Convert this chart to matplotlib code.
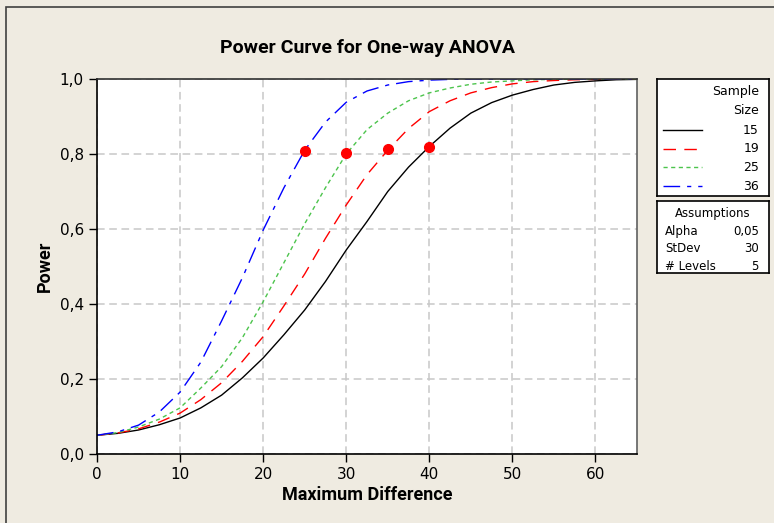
import numpy as np
import matplotlib.pyplot as plt
from matplotlib.patches import Rectangle

# values
diff = [0, 2.5, 5, 7.5, 10, 12.5, 15, 17.5, 20, 22.5, 25, 27.5, 30, 32.5,
        35, 37.5, 40, 42.5, 45, 47.5, 50, 52.5, 55, 57.5, 60, 62.5, 65]
power_15 = [0.050, 0.055, 0.064, 0.078, 0.096, 0.123, 0.157, 0.203, 0.256,
            0.318, 0.384, 0.460, 0.544, 0.620, 0.700, 0.765, 0.820, 0.869,
            0.909, 0.937, 0.957, 0.972, 0.984, 0.991, 0.995, 0.998, 0.999]
power_19 = [0.050, 0.056, 0.067, 0.085, 0.109, 0.145, 0.190, 0.247, 0.313,
            0.395, 0.480, 0.575, 0.664, 0.745, 0.810, 0.868, 0.913, 0.942,
            0.963, 0.977, 0.987, 0.993, 0.996, 0.998, 0.999, 1.000, 1.000]
power_25 = [0.050, 0.057, 0.072, 0.093, 0.123, 0.176, 0.233, 0.310, 0.406,
            0.510, 0.614, 0.710, 0.800, 0.865, 0.909, 0.942, 0.963, 0.976,
            0.986, 0.992, 0.995, 0.998, 0.999, 1.000, 1.000, 1.000, 1.000]
power_36 = [0.050, 0.059, 0.077, 0.112, 0.165, 0.245, 0.355, 0.470, 0.597,
            0.710, 0.810, 0.885, 0.938, 0.968, 0.984, 0.993, 0.997, 0.999,
            1.000, 1.000, 1.000, 1.000, 1.000, 1.000, 1.000, 1.000, 1.000]

sizes = ['15', '19', '25', '36']
colors = ['black', 'red', '#4CC44C', 'blue']
styles = ['-', (0, (9, 6)), (0, (3, 2.5)), (0, (12, 5, 3, 5))]

# target points (difference for 0.8 power)
target_x = [25, 30, 35, 40]
target_y = [0.808, 0.802, 0.813, 0.820]

assump_names = ['Alpha', 'StDev', '# Levels']
assump_vals = ['0,05', '30', '5']

narrow = ['Roboto', 'DejaVu Sans']

bg = '#EFEBE1'
W, H = 774, 523
fig = plt.figure(figsize=(W / 100, H / 100), dpi=100, facecolor=bg)

# outer frame
fig.add_artist(Rectangle((6 / W, -0.1), 1.2, (H - 7) / H + 0.1,
                         transform=fig.transFigure, fill=False,
                         edgecolor='#404040', lw=1.2))

ax = fig.add_axes([97 / W, (H - 454) / H, 540 / W, 375 / H])
ax.set_facecolor('white')

curves = [power_15, power_19, power_25, power_36]
for y, c, ls in zip(curves, colors, styles):
    ax.plot(diff, y, color=c, linestyle=ls, lw=1.0)
ax.plot(target_x, target_y, 'o', color='red', ms=7, zorder=5)

ax.set_xlim(0, 65)
ax.set_ylim(0, 1.0)
ax.set_xticks(np.arange(0, 61, 10))
ax.set_yticks(np.arange(0, 1.01, 0.2))
ax.set_yticklabels([f'{v:.1f}'.replace('.', ',') for v in np.arange(0, 1.01, 0.2)])
ax.grid(True, color='#C8C8C8', linestyle=(0, (5, 3)), lw=1.1)
ax.tick_params(direction='out', length=6, width=1, labelsize=11)
for s in ax.spines.values():
    s.set_linewidth(1.2)
ax.spines['top'].set_color('#303030')
ax.spines['right'].set_color('#606060')

ax.set_title('Power Curve for One-way ANOVA', fontsize=14, fontweight='bold',
             family=narrow, pad=19)
ax.set_xlabel('Maximum Difference', fontsize=13, fontweight='bold',
              family=narrow, labelpad=3)
ax.set_ylabel('Power', fontsize=13, fontweight='bold', family=narrow,
              labelpad=4)

# legend box
lg = fig.add_axes([657 / W, (H - 196) / H, 112 / W, 117 / H])
lg.set_xlim(0, 112)
lg.set_ylim(117, 0)
lg.set_xticks([])
lg.set_yticks([])
for s in lg.spines.values():
    s.set_linewidth(1.2)
lg.text(102, 13, 'Sample', ha='right', va='center', fontsize=9)
lg.text(102, 32, 'Size', ha='right', va='center', fontsize=9)
for i, (lab, c, ls) in enumerate(zip(sizes, colors, styles)):
    yy = 51 + i * 18.7
    lg.plot([6, 45], [yy, yy], color=c, linestyle=ls, lw=1.0)
    lg.text(102, yy, lab, ha='right', va='center', fontsize=9)

# assumptions box
ab = fig.add_axes([657 / W, (H - 273) / H, 112 / W, 72 / H])
ab.set_xlim(0, 112)
ab.set_ylim(72, 0)
ab.set_xticks([])
ab.set_yticks([])
for s in ab.spines.values():
    s.set_linewidth(1.2)
ab.text(56, 12, 'Assumptions', ha='center', va='center', fontsize=8.5)
for i, (n, v) in enumerate(zip(assump_names, assump_vals)):
    yy = 30 + i * 17.5
    ab.text(8, yy, n, ha='left', va='center', fontsize=8.5)
    ab.text(102, yy, v, ha='right', va='center', fontsize=8.5)

fig.savefig('out.png', dpi=100, facecolor=bg)
